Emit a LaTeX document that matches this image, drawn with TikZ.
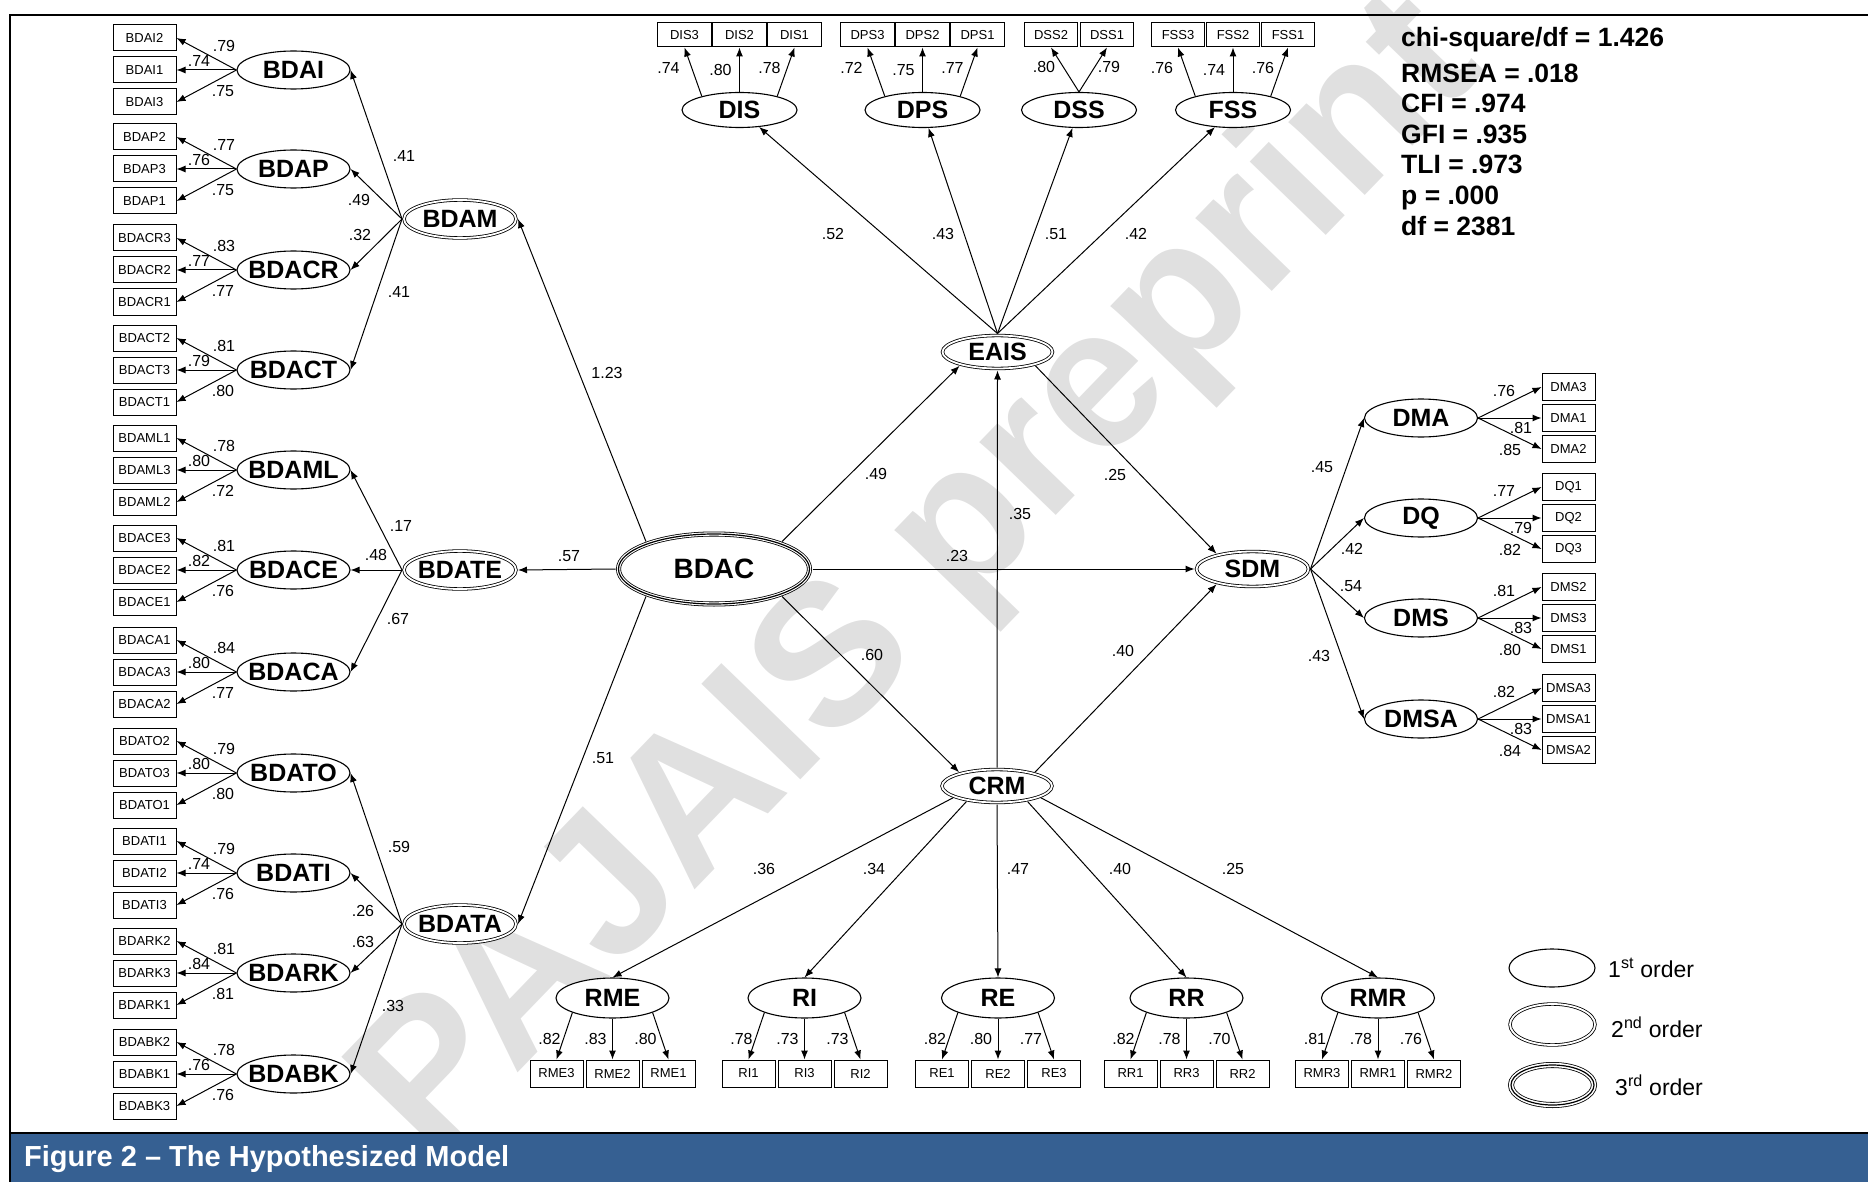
\documentclass[tikz,border=0pt]{standalone}
\usepackage{fontspec}
\setmainfont{Liberation Sans}
\usetikzlibrary{arrows.meta, shapes.geometric}

\definecolor{faixa}{RGB}{54,96,146}
\definecolor{marca}{RGB}{224,224,224}

\tikzset{
  ind/.style={draw, line width=1pt, fill=white, inner sep=0pt, minimum width=63pt, minimum height=26pt, font=\fontsize{13}{15}\selectfont},
  fo/.style={ellipse, draw, line width=1.1pt, fill=white, inner xsep=-14pt, inner ysep=0pt, minimum width=113pt, minimum height=38pt, font=\fontsize{25}{28}\bfseries},
  so/.style={fo, line width=0.8pt, double, double distance=1.8pt, outer sep=2pt, minimum width=112pt, minimum height=38pt},
  tho/.style={fo, line width=0.8pt, double, double distance=3.4pt, outer sep=3pt, postaction={draw, line width=1.2pt}},
  lab/.style={inner sep=0pt, font=\fontsize{16}{18}\selectfont},
  ajuste/.style={inner sep=0pt, anchor=base west, font=\fontsize{26.5}{30}\bfseries},
  seta/.style={->, line width=1pt}
}

\begin{document}
\begin{tikzpicture}[x=1pt, y=-1pt, >={Latex[length=9pt,width=7pt]}]
    \useasboundingbox (0,0) rectangle (1868,1182);

    % Marca d'agua
    \node[rotate=46, text=marca, inner sep=0pt, font=\fontsize{200}{200}\bfseries] (marca) at (922,580) {PAJAIS preprint};

    % Moldura e faixa da legenda
    \fill[faixa] (10,1133) rectangle (1868,1182);
    \draw[line width=2pt] (1868,15) -- (10,15) -- (10,1182);
    \draw[line width=2pt] (10,1133) -- (1868,1133);
    \node[anchor=west, text=white, inner sep=0pt, font=\fontsize{29}{32}\bfseries] (titulo) at (24,1159) {Figure 2 – The Hypothesized Model};

    % Fatores de primeira ordem (esquerda)
    \foreach \f/\y/\ia/\ib/\ic/\la/\lb/\lc in {
        BDAI/70/BDAI2/BDAI1/BDAI3/.79/.74/.75,
        BDAP/169/BDAP2/BDAP3/BDAP1/.77/.76/.75,
        BDACR/270/BDACR3/BDACR2/BDACR1/.83/.77/.77,
        BDACT/370/BDACT2/BDACT3/BDACT1/.81/.79/.80,
        BDAML/470/BDAML1/BDAML3/BDAML2/.78/.80/.72,
        BDACE/570/BDACE3/BDACE2/BDACE1/.81/.82/.76,
        BDACA/672/BDACA1/BDACA3/BDACA2/.84/.80/.77,
        BDATO/773/BDATO2/BDATO3/BDATO1/.79/.80/.80,
        BDATI/873/BDATI1/BDATI2/BDATI3/.79/.74/.76,
        BDARK/973/BDARK2/BDARK3/BDARK1/.81/.84/.81,
        BDABK/1074/BDABK2/BDABK1/BDABK3/.78/.76/.76} {
        \node[fo] (\f) at (293.5,\y) {\f};
        \node[ind] (\ia) at (144.5,\y-32) {\ia};
        \node[ind] (\ib) at (144.5,\y) {\ib};
        \node[ind] (\ic) at (144.5,\y+32) {\ic};
        \draw[seta] (\f.west) -- (\ia.east);
        \draw[seta] (\f.west) -- (\ib.east);
        \draw[seta] (\f.west) -- (\ic.east);
        \node[lab] (l\ia) at (224,\y-24) {\la};
        \node[lab] (l\ib) at (199,\y-9) {\lb};
        \node[lab] (l\ic) at (223,\y+21) {\lc};
    }

    % Fatores de primeira ordem (topo)
    \foreach \f/\x/\ia/\ib/\ic/\la/\lb/\lc in {
        DIS/739.5/DIS3/DIS2/DIS1/.74/.80/.78,
        DPS/922.5/DPS3/DPS2/DPS1/.72/.75/.77,
        FSS/1233/FSS3/FSS2/FSS1/.76/.74/.76} {
        \node[fo, minimum width=115pt, minimum height=35pt] (\f) at (\x,110) {\f};
        \node[ind, minimum width=53.5pt, minimum height=24pt] (\ia) at (\x-55,35) {\ia};
        \node[ind, minimum width=53.5pt, minimum height=24pt] (\ib) at (\x,35) {\ib};
        \node[ind, minimum width=53.5pt, minimum height=24pt] (\ic) at (\x+55,35) {\ic};
        \draw[seta] (\f.160) -- (\ia.south);
        \draw[seta] (\f.north) -- (\ib.south);
        \draw[seta] (\f.20) -- (\ic.south);
        \node[lab] (l\ia) at (\x-71,68) {\la};
        \node[lab] (l\ib) at (\x-19,70) {\lb};
        \node[lab] (l\ic) at (\x+30,68) {\lc};
    }
    \node[fo, minimum width=115pt, minimum height=35pt] (DSS) at (1079,110) {DSS};
    \node[ind, minimum width=53.5pt, minimum height=24pt] (DSS2) at (1051,35) {DSS2};
    \node[ind, minimum width=53.5pt, minimum height=24pt] (DSS1) at (1107,35) {DSS1};
    \draw[seta] (DSS.north) -- (DSS2.south);
    \draw[seta] (DSS.north) -- (DSS1.south);
    \node[lab] (lDSS2) at (1044,67) {.80};
    \node[lab] (lDSS1) at (1109,67) {.79};

    % Fatores de primeira ordem (direita)
    \foreach \f/\y/\ia/\ib/\ic/\la/\lb/\lc in {
        DMA/418/DMA3/DMA1/DMA2/.76/.81/.85,
        DQ/518/DQ1/DQ2/DQ3/.77/.79/.82,
        DMS/618/DMS2/DMS3/DMS1/.81/.83/.80,
        DMSA/719/DMSA3/DMSA1/DMSA2/.82/.83/.84} {
        \node[fo] (\f) at (1421,\y) {\f};
        \node[ind, minimum width=53pt, minimum height=27pt] (\ia) at (1568.5,\y-31) {\ia};
        \node[ind, minimum width=53pt, minimum height=27pt] (\ib) at (1568.5,\y) {\ib};
        \node[ind, minimum width=53pt, minimum height=27pt] (\ic) at (1568.5,\y+31) {\ic};
        \draw[seta] (\f.east) -- (\ia.west);
        \draw[seta] (\f.east) -- (\ib.west);
        \draw[seta] (\f.east) -- (\ic.west);
        \node[lab] (l\ia) at (1504,\y-27) {\la};
        \node[lab] (l\ib) at (1521,\y+10) {\lb};
        \node[lab] (l\ic) at (1510,\y+32) {\lc};
    }

    % Fatores de primeira ordem (base)
    \foreach \f/\x/\ia/\ib/\ic/\la/\lb/\lc in {
        RME/612.5/RME3/RME2/RME1/.82/.83/.80,
        RI/804.5/RI1/RI3/RI2/.78/.73/.73,
        RE/998/RE1/RE2/RE3/.82/.80/.77,
        RR/1186.5/RR1/RR3/RR2/.82/.78/.70,
        RMR/1378/RMR3/RMR1/RMR2/.81/.78/.76} {
        \node[fo, minimum height=40pt] (\f) at (\x,998) {\f};
        \node[ind, minimum width=53pt, minimum height=27pt] (\ia) at (\x-56,1073.5) {\ia};
        \node[ind, minimum width=53pt, minimum height=27pt] (\ib) at (\x,1073.5) {\ib};
        \node[ind, minimum width=53pt, minimum height=27pt] (\ic) at (\x+56,1073.5) {\ic};
        \draw[seta] (\f.200) -- (\ia.north);
        \draw[seta] (\f.south) -- (\ib.north);
        \draw[seta] (\f.340) -- (\ic.north);
        \node[lab] (l\ia) at (\x-63,1039) {\la};
        \node[lab] (l\ib) at (\x-17,1039) {\lb};
        \node[lab] (l\ic) at (\x+33,1039) {\lc};
    }

    % Fatores de segunda e terceira ordem
    \node[so] (BDAM) at (460,219) {BDAM};
    \node[so] (BDATE) at (460,570) {BDATE};
    \node[so] (BDATA) at (460,924) {BDATA};
    \node[tho, minimum width=191pt, minimum height=70pt, font=\fontsize{28}{32}\bfseries] (BDAC) at (714,569) {BDAC};
    \node[so, minimum width=110pt, minimum height=33pt] (EAIS) at (997.5,352) {EAIS};
    \node[so, minimum width=110pt, minimum height=33pt] (CRM) at (997,786) {CRM};
    \node[so, minimum width=112pt, minimum height=35pt] (SDM) at (1252.5,569) {SDM};

    % Cargas de segunda ordem
    \foreach \s/\f/\v/\lx/\ly in {
        BDAM/BDAI/.41/404/156, BDAM/BDAP/.49/359/200, BDAM/BDACR/.32/360/235, BDAM/BDACT/.41/399/292,
        BDATE/BDAML/.17/401/526, BDATE/BDACE/.48/376/555, BDATE/BDACA/.67/398/619,
        BDATA/BDATO/.59/399/847, BDATA/BDATI/.26/363/911, BDATA/BDARK/.63/363/942, BDATA/BDABK/.33/393/1006} {
        \draw[seta] (\s.west) -- (\f.east);
        \node[lab] (l\s\f) at (\lx,\ly) {\v};
    }
    \foreach \f/\v/\lx in {DIS/.52/833, DPS/.43/943, DSS/.51/1056, FSS/.42/1136} {
        \draw[seta] (EAIS.north) -- (\f);
        \node[lab] (lEAIS\f) at (\lx,234) {\v};
    }
    \foreach \a/\f/\v/\lx in {195/RME/.36/764, 207/RI/.34/874, 270/RE/.47/1018, 333/RR/.40/1120, 345/RMR/.25/1233} {
        \draw[seta] (CRM.\a) -- (\f.north);
        \node[lab] (lCRM\f) at (\lx,869) {\v};
    }
    \foreach \f/\v/\lx/\ly in {DMA/.45/1322/467, DQ/.42/1352/549, DMS/.54/1351/586, DMSA/.43/1319/656} {
        \draw[seta] (SDM.east) -- (\f.west);
        \node[lab] (lSDM\f) at (\lx,\ly) {\v};
    }

    % Caminhos estruturais
    \draw[seta] (BDAC.158) -- (BDAM.east);
    \draw[seta] (BDAC.west) -- (BDATE.east);
    \draw[seta] (BDAC.202) -- (BDATA.east);
    \draw[seta] (BDAC.22) -- (EAIS.200);
    \draw[seta] (BDAC.east) -- (SDM.west);
    \draw[seta] (BDAC.338) -- (CRM.160);
    \draw[seta] (CRM.north) -- (EAIS.south);
    \draw[seta] (EAIS.340) -- (SDM.157);
    \draw[seta] (CRM.20) -- (SDM.203);
    \node[lab] (lBDAM) at (607,373) {1.23};
    \node[lab] (lBDATE) at (569,556) {.57};
    \node[lab] (lBDATA) at (603,758) {.51};
    \node[lab] (lEAIS) at (876,474) {.49};
    \node[lab] (lSDM) at (957,556) {.23};
    \node[lab] (lCRM) at (872,655) {.60};
    \node[lab] (lCRMEAIS) at (1020,514) {.35};
    \node[lab] (lEAISSDM) at (1115,475) {.25};
    \node[lab] (lCRMSDM) at (1123,651) {.40};

    % Indices de ajuste
    \foreach \y/\t [count=\i] in {47/{chi-square/df = 1.426}, 83/{RMSEA = .018}, 113/{CFI = .974}, 143.5/{GFI = .935}, 174/{TLI = .973}, 204.5/{p = .000}, 235.5/{df = 2381}}
        \node[ajuste] (ajuste\i) at (1401,\y) {\t};

    % Legenda das ordens
    \node[fo, minimum width=86pt, minimum height=38pt] (ordem1) at (1552,968) {};
    \node[so, minimum width=85pt, minimum height=41pt] (ordem2) at (1552.5,1024.5) {};
    \node[tho, double distance=4.4pt, minimum width=83pt, minimum height=40pt] (ordem3) at (1552.5,1085) {};
    \node[anchor=west, inner sep=0pt, font=\fontsize{23}{26}\selectfont] (tordem1) at (1608,968) {1\textsuperscript{st} order};
    \node[anchor=west, inner sep=0pt, font=\fontsize{23}{26}\selectfont] (tordem2) at (1611,1027) {2\textsuperscript{nd} order};
    \node[anchor=west, inner sep=0pt, font=\fontsize{23}{26}\selectfont] (tordem3) at (1615,1085) {3\textsuperscript{rd} order};
\end{tikzpicture}
\end{document}
